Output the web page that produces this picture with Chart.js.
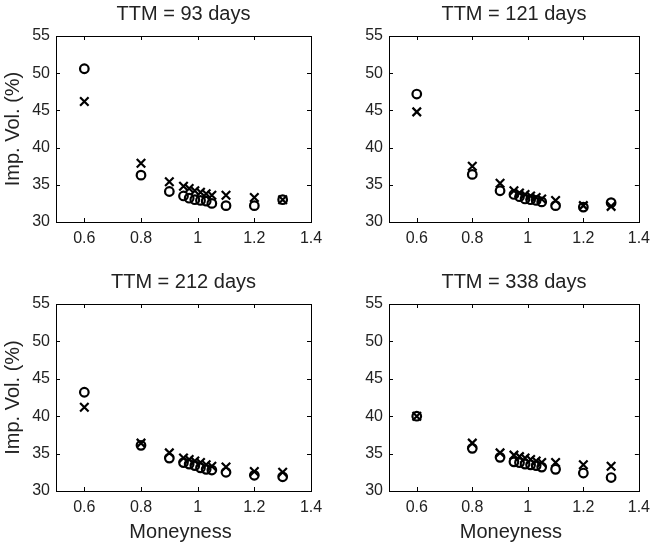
<!DOCTYPE html>
<html>
<head>
<meta charset="utf-8">
<script src="https://cdn.jsdelivr.net/npm/chart.js@4/dist/chart.umd.min.js"></script>
<style>
  body { margin: 0; background: #fff; }
  #wrap { position: relative; width: 657px; height: 543px; }
  canvas { position: absolute; left: 0; top: 0; }
</style>
</head>
<body>
<div id="wrap">
  <canvas id="c1" width="657" height="543"></canvas>
  <canvas id="c2" width="657" height="543"></canvas>
  <canvas id="c3" width="657" height="543"></canvas>
  <canvas id="c4" width="657" height="543"></canvas>
</div>
<script>
let moneyness = [0.6, 0.8, 0.9, 0.95, 0.97, 0.99, 1.01, 1.03, 1.05, 1.1, 1.2, 1.3];
let xTicks = [0.6, 0.8, 1, 1.2, 1.4];
let yTicks = [30, 35, 40, 45, 50, 55];

let ttm93Cross   = [46.2, 37.9, 35.4, 34.8, 34.5, 34.2, 34.0, 33.8, 33.6, 33.6, 33.3, 33.0];
let ttm93Circle  = [50.6, 36.3, 34.1, 33.5, 33.2, 33.0, 32.9, 32.8, 32.5, 32.2, 32.2, 33.0];
let ttm121Cross  = [44.8, 37.5, 35.2, 34.2, 33.9, 33.7, 33.5, 33.3, 33.1, 32.9, 32.2, 32.1];
let ttm121Circle = [47.2, 36.4, 34.2, 33.7, 33.4, 33.1, 33.0, 32.9, 32.7, 32.2, 32.0, 32.6];
let ttm212Cross  = [41.2, 36.4, 35.1, 34.4, 34.2, 34.0, 33.8, 33.5, 33.3, 33.2, 32.6, 32.5];
let ttm212Circle = [43.2, 36.1, 34.4, 33.8, 33.6, 33.4, 33.1, 32.9, 32.8, 32.5, 32.1, 31.9];
let ttm338Cross  = [40.0, 36.4, 35.1, 34.8, 34.6, 34.4, 34.2, 34.0, 33.8, 33.8, 33.5, 33.3];
let ttm338Circle = [40.0, 35.7, 34.5, 33.9, 33.8, 33.6, 33.5, 33.4, 33.2, 32.9, 32.4, 31.8];

const FONT = '"Liberation Sans", Arial, sans-serif';
const AXIS_W = 40;
const AXIS_H = 40;

// frame, inward ticks, titles and axis labels (MATLAB look)
const matlabFrame = {
    id: 'matlabFrame',
    afterDraw(chart, args, opts) {
        const ctx = chart.ctx;
        const a = chart.chartArea;
        const xs = chart.scales.x, ys = chart.scales.y;
        ctx.save();
        ctx.strokeStyle = '#000';
        ctx.lineWidth = 1;
        ctx.strokeRect(Math.round(a.left) + 0.5, Math.round(a.top) + 0.5,
                       Math.round(a.right - a.left), Math.round(a.bottom - a.top));
        ctx.beginPath();
        xTicks.forEach(v => {
            const px = Math.round(xs.getPixelForValue(v)) + 0.5;
            ctx.moveTo(px, a.bottom); ctx.lineTo(px, a.bottom - 4);
            ctx.moveTo(px, a.top); ctx.lineTo(px, a.top + 4);
        });
        yTicks.forEach(v => {
            const py = Math.round(ys.getPixelForValue(v)) + 0.5;
            ctx.moveTo(a.left, py); ctx.lineTo(a.left + 4, py);
            ctx.moveTo(a.right, py); ctx.lineTo(a.right - 4, py);
        });
        ctx.stroke();

        ctx.fillStyle = '#222';
        ctx.font = '20px ' + FONT;
        ctx.textAlign = 'center';
        ctx.textBaseline = 'middle';
        const cx = (a.left + a.right) / 2;
        ctx.fillText(opts.title, cx, a.top - 22);
        if (opts.xLabel) {
            ctx.fillText(opts.xLabel, cx - 3, a.bottom + 41);
        }
        if (opts.yLabel) {
            ctx.translate(a.left - 43, (a.top + a.bottom) / 2);
            ctx.rotate(-Math.PI / 2);
            ctx.fillText(opts.yLabel, 0, 0);
        }
        ctx.restore();
    }
};

function makeChart(id, box, crossData, circleData, labels) {
    const toPts = arr => arr.map((v, i) => ({ x: moneyness[i], y: v }));
    const config = {
        type: 'scatter',
        data: {
            datasets: [{
                data: toPts(crossData),
                pointStyle: 'crossRot',
                pointRadius: 6,
                borderColor: '#000',
                backgroundColor: 'rgba(0,0,0,0)',
                pointBorderWidth: 2.2
            }, {
                data: toPts(circleData),
                pointStyle: 'circle',
                pointRadius: 4.3,
                borderColor: '#000',
                backgroundColor: 'rgba(0,0,0,0)',
                pointBorderWidth: 2.2
            }]
        },
        options: {
            responsive: false,
            animation: false,
            events: [],
            layout: {
                padding: {
                    left: box.left - AXIS_W,
                    top: box.top,
                    right: 657 - box.right,
                    bottom: 543 - box.bottom - AXIS_H
                }
            },
            plugins: {
                legend: { display: false },
                tooltip: { enabled: false },
                matlabFrame: labels
            },
            scales: {
                x: {
                    type: 'linear',
                    min: 0.5,
                    max: 1.4,
                    afterFit: s => { s.height = AXIS_H; },
                    afterBuildTicks: s => { s.ticks = xTicks.map(v => ({ value: v })); },
                    grid: { display: false, drawTicks: false },
                    border: { display: false },
                    ticks: {
                        color: '#222',
                        padding: 7,
                        maxRotation: 0,
                        font: { family: FONT, size: 16 },
                        callback: v => String(v)
                    }
                },
                y: {
                    min: 30,
                    max: 55,
                    afterFit: s => { s.width = AXIS_W; },
                    afterBuildTicks: s => { s.ticks = yTicks.map(v => ({ value: v })); },
                    grid: { display: false, drawTicks: false },
                    border: { display: false },
                    ticks: {
                        color: '#222',
                        padding: 6,
                        font: { family: FONT, size: 16 }
                    }
                }
            }
        },
        plugins: [matlabFrame]
    };
    return new Chart(document.getElementById(id), config);
}

makeChart('c1', { left: 56, top: 36, right: 311, bottom: 222 }, ttm93Cross, ttm93Circle,
          { title: 'TTM = 93 days', yLabel: 'Imp. Vol. (%)' });
makeChart('c2', { left: 389, top: 36, right: 642, bottom: 222 }, ttm121Cross, ttm121Circle,
          { title: 'TTM = 121 days' });
makeChart('c3', { left: 56, top: 304, right: 311, bottom: 491 }, ttm212Cross, ttm212Circle,
          { title: 'TTM = 212 days', yLabel: 'Imp. Vol. (%)', xLabel: 'Moneyness' });
makeChart('c4', { left: 389, top: 304, right: 642, bottom: 491 }, ttm338Cross, ttm338Circle,
          { title: 'TTM = 338 days', xLabel: 'Moneyness' });
</script>
</body>
</html>
